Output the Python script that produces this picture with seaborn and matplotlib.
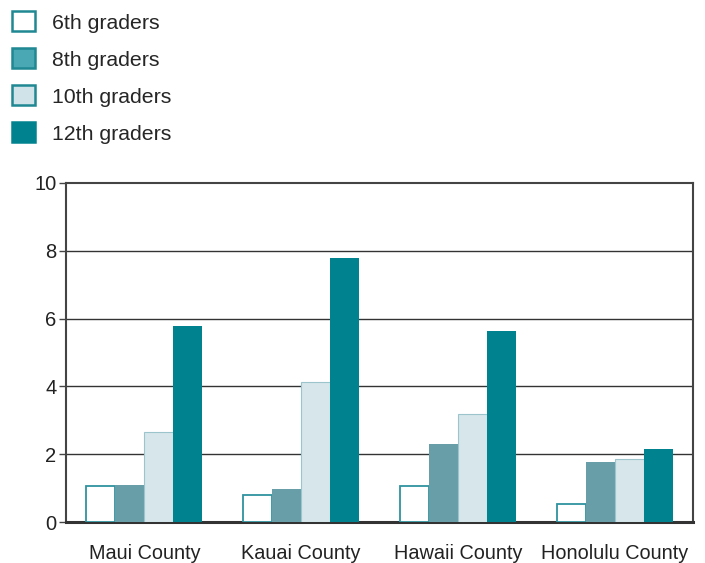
import matplotlib
matplotlib.use("Agg")
import matplotlib.pyplot as plt
from matplotlib.patches import Patch
import seaborn as sns
import pandas as pd

counties = ["Maui County", "Kauai County", "Hawaii County", "Honolulu County"]
grades = ["6th graders", "8th graders", "10th graders", "12th graders"]
grade6 = [1.06, 0.80, 1.06, 0.53]
grade8 = [1.09, 0.97, 2.30, 1.77]
grade10 = [2.65, 4.13, 3.20, 1.86]
grade12 = [5.78, 7.79, 5.63, 2.15]
yticks = [0, 2, 4, 6, 8, 10]

fills = ["#ffffff", "#689ea8", "#d6e6ea", "#00838f"]
legend_fills = ["#ffffff", "#4aa8b5", "#cfe3e8", "#00838f"]
edge_teal = "#2f93a0"

sns.set_theme(style="white")
plt.rcParams["font.family"] = ["Liberation Sans", "DejaVu Sans"]

rows = []
for name, vals in zip(grades, [grade6, grade8, grade10, grade12]):
    for c, v in zip(counties, vals):
        rows.append({"county": c, "grade": name, "value": v})
df = pd.DataFrame(rows)

fig = plt.figure(figsize=(7.05, 5.63), dpi=100)
ax = fig.add_axes([66 / 705, 41 / 563, 627 / 705, 339 / 563])

sns.barplot(data=df, x="county", y="value", hue="grade", order=counties,
            hue_order=grades, palette=fills, width=0.74, gap=0,
            saturation=1, linewidth=0, ax=ax, legend=False, zorder=3)

# outline the light bars
n = len(counties)
for i, p in enumerate(ax.patches[:4 * n]):
    g = i // n
    if g == 0:
        p.set_edgecolor(edge_teal)
        p.set_linewidth(1.3)
    elif g == 2:
        p.set_edgecolor("#9cc4cc")
        p.set_linewidth(0.8)

ax.set_ylim(0, 10)
ax.set_xlim(-0.5, 3.5)
ax.set_yticks(yticks)
ax.set_yticklabels([str(t) for t in yticks], fontsize=14.5, color="#222222")
ax.set_xticks(range(n))
ax.set_xticklabels(counties, fontsize=14.3, color="#222222")
ax.set_xticks([-0.5, 0.5, 1.5, 2.5, 3.5], minor=True)
ax.tick_params(axis="x", which="major", length=0, pad=16)
ax.tick_params(axis="x", which="minor", length=7, width=1, color="#444444",
               direction="out")
ax.tick_params(axis="y", length=5, width=1, color="#444444", direction="out",
               left=True, pad=2)
ax.set_xlabel("")
ax.set_ylabel("")

for t in yticks[1:-1]:
    ax.axhline(t, color="#333333", lw=1.0, zorder=1)

for side in ["left", "right", "top"]:
    ax.spines[side].set_color("#444444")
    ax.spines[side].set_linewidth(1.5)
ax.spines["bottom"].set_color("#333333")
ax.spines["bottom"].set_linewidth(2.2)

handles = [
    Patch(facecolor=legend_fills[0], edgecolor="#1f8893", linewidth=1.8),
    Patch(facecolor=legend_fills[1], edgecolor="#1f8893", linewidth=1.8),
    Patch(facecolor=legend_fills[2], edgecolor="#1f8893", linewidth=1.8),
    Patch(facecolor=legend_fills[3], edgecolor=legend_fills[3], linewidth=1.8),
]
fig.legend(handles, grades, loc="upper left", bbox_to_anchor=(12 / 705, 0.980),
           frameon=False, fontsize=15.3, handlelength=1.08, handleheight=1.08,
           labelspacing=0.74, handletextpad=0.8, borderpad=0, borderaxespad=0)

fig.savefig("out.png", dpi=100, facecolor="white")
